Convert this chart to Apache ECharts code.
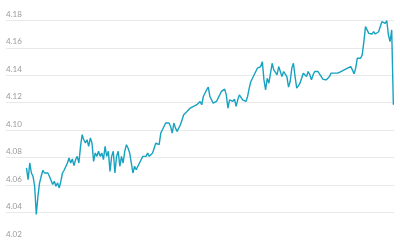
<!DOCTYPE html>
<html>
<head>
<meta charset="utf-8">
<script src="https://cdn.jsdelivr.net/npm/echarts@6/dist/echarts.min.js"></script>
<style>html,body{margin:0;padding:0;background:#fff;}#c{width:400px;height:240px;}</style>
</head>
<body>
<div id="c"></div>
<script>
var yTicks = [4.02, 4.04, 4.06, 4.08, 4.10, 4.12, 4.14, 4.16, 4.18];
var values = [
4.0725,4.0640,4.0761,4.0688,4.0664,4.0591,4.0386,4.0519,4.0616,4.0664,
4.0708,4.0688,4.0676,4.0688,4.0664,4.0676,4.0604,4.0628,4.0591,4.0616,
4.0579,4.0628,4.0688,4.0708,4.0712,4.0761,4.0797,4.0761,4.0790,4.0742,
4.0785,4.0809,4.0761,4.0882,4.0967,4.0930,4.0906,4.0930,4.0882,4.0943,
4.0906,4.0773,4.0834,4.0809,4.0846,4.0809,4.0834,4.0785,4.0882,4.0809,
4.0846,4.0700,4.0809,4.0846,4.0688,4.0809,4.0846,4.0737,4.0809,4.0761,
4.0846,4.0894,4.0870,4.0834,4.0761,4.0688,4.0737,4.0712,4.0737,4.0761,
4.0766,4.0809,4.0821,4.0809,4.0834,4.0809,4.0821,4.0834,4.0870,4.0906,
4.0918,4.0894,4.0979,4.1003,4.1015,4.1052,4.1039,4.1052,4.1027,4.0979,
4.1052,4.1015,4.0991,4.1015,4.1039,4.1076,4.1112,4.1124,4.1136,4.1148,
4.1161,4.1148,4.1173,4.1168,4.1185,4.1197,4.1209,
4.1185,4.1245,4.1257,4.1294,4.1313,4.1245,4.1221,4.1197,4.1192,4.1209,
4.1202,4.1257,4.1282,4.1270,4.1299,4.1257,4.1161,4.1221,4.1233,4.1209,
4.1226,4.1173,4.1221,4.1257,4.1245,4.1221,4.1233,4.1209,4.1245,4.1306,
4.1354,4.1378,4.1390,4.1427,4.1451,4.1439,4.1463,4.1499,4.1366,4.1294,
4.1378,4.1342,4.1415,4.1487,4.1439,4.1427,4.1403,4.1463,4.1451,4.1390,
4.1427,4.1439,4.1390,4.1313,4.1354,4.1451,4.1487,4.1390,4.1306,4.1323,
4.1342,4.1378,4.1415,4.1427,4.1390,4.1427,4.1403,4.1366,4.1403,4.1427,
4.1434,4.1427,4.1415,4.1390,4.1371,4.1378,4.1366,4.1378,4.1390,4.1415,
4.1403,4.1415,4.1410,4.1415,4.1403,4.1427,4.1427,4.1439,4.1434,4.1451,
4.1439,4.1463,4.1439,4.1410,4.1451,4.1524,4.1536,4.1524,4.1548,4.1645,
4.1754,4.1754,4.1705,4.1717,4.1700,4.1717,4.1700,4.1705,4.1717,4.1730,
4.1790,4.1802,4.1778,4.1797,4.1693,4.1645,4.1730,4.1185
];
var n = values.length;
var seriesData = values.map(function (v, i) { return [i, v]; });

var chart = echarts.init(document.getElementById('c'), null, {renderer: 'canvas'});
chart.setOption({
  animation: false,
  grid: {left: 6, right: 6, top: 20.3, bottom: -0.6, containLabel: false},
  xAxis: {
    type: 'value', min: -12.5, max: n - 1 + 0.4,
    show: false
  },
  yAxis: {
    type: 'value', min: 4.02, max: 4.18, interval: 0.02,
    axisLine: {show: false}, axisTick: {show: false},
    splitLine: {lineStyle: {color: '#e9e9e9', width: 1}},
    axisLabel: {
      inside: true, margin: 0, verticalAlign: 'bottom', padding: [0, 0, 2, 0],
      color: '#999999', fontSize: 8, fontFamily: 'Lato',
      formatter: function (v) {
        var t = v.toFixed(2);
        return yTicks.indexOf(Number(t)) >= 0 ? t : '';
      }
    }
  },
  series: [{
    type: 'line', data: seriesData, showSymbol: false, clip: false,
    lineStyle: {color: '#17a2c0', width: 1.4},
    itemStyle: {color: '#17a2c0'}
  }]
});
</script>
</body>
</html>
